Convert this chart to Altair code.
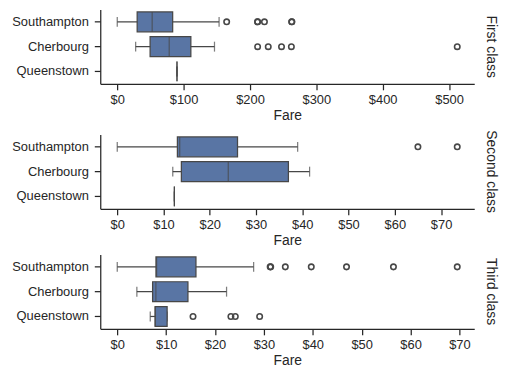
import altair as alt
import pandas as pd

towns = ["Southampton", "Cherbourg", "Queenstown"]

# First class box statistics (low whisker, Q1, median, Q3, high whisker)
lo1 = [0.0, 27.72, 90.0]
q1_1 = [30.0, 49.5, 90.0]
med1 = [52.6, 78.3, 90.0]
q3_1 = [83.5, 110.9, 90.0]
hi1 = [153.46, 146.52, 90.0]
out1_town = ["Southampton"] * 6 + ["Cherbourg"] * 5
out1_fare = [164.87, 211.34, 211.5, 221.78, 263.0, 263.0,
             211.5, 227.53, 247.52, 262.38, 512.33]

# Second class
lo2 = [0.0, 12.0, 12.35]
q1_2 = [13.0, 13.86, 12.35]
med2 = [13.5, 24.0, 12.35]
q3_2 = [26.0, 37.0, 12.35]
hi2 = [39.0, 41.58, 12.35]
out2_town = ["Southampton", "Southampton"]
out2_fare = [65.0, 73.5]

# Third class
lo3 = [0.0, 4.01, 6.75]
q1_3 = [7.92, 7.23, 7.75]
med3 = [8.05, 7.9, 7.75]
q3_3 = [16.1, 14.46, 10.2]
hi3 = [27.9, 22.36, 10.2]
out3_town = ["Southampton"] * 7 + ["Queenstown"] * 4
out3_fare = [31.28, 31.39, 34.38, 39.69, 46.9, 56.5, 69.55,
             15.5, 23.25, 24.15, 29.13]

classes = ["First class", "Second class", "Third class"]
ticks1 = [0, 100, 200, 300, 400, 500]
ticks23 = [0, 10, 20, 30, 40, 50, 60, 70]

BOX = "#5975a4"
LC = "#474747"
TXT = "#262626"
FONT = "Arial"


def panel(lo, q1, med, q3, hi, otown, ofare, ticks, label):
    df = pd.DataFrame({"town": towns, "lo": lo, "q1": q1, "med": med, "q3": q3, "hi": hi})
    od = pd.DataFrame({"town": otown, "fare": ofare})
    allv = lo + hi + ofare
    mn, mx = min(allv), max(allv)
    m = (mx - mn) * 0.05
    xscale = alt.Scale(domain=[mn - m, mx + m], nice=False, zero=False)
    xaxis = alt.Axis(title="Fare", values=ticks, labelExpr="'$' + datum.value")
    y = alt.Y("town:N", sort=towns,
              scale=alt.Scale(domain=towns, paddingInner=0, paddingOuter=0),
              axis=alt.Axis(title=None))
    base = alt.Chart(df)
    whisk = base.mark_rule(color=LC, strokeWidth=1.25).encode(
        x=alt.X("lo:Q", scale=xscale, axis=xaxis), x2="hi:Q", y=y)
    cap_lo = base.mark_tick(color=LC, size=10, thickness=1.25).encode(
        x=alt.X("lo:Q", scale=xscale, axis=xaxis), y=y)
    cap_hi = base.mark_tick(color=LC, size=10, thickness=1.25).encode(
        x=alt.X("hi:Q", scale=xscale, axis=xaxis), y=y)
    box = base.mark_bar(size=20, color=BOX, stroke=LC, strokeWidth=1.25).encode(
        x=alt.X("q1:Q", scale=xscale, axis=xaxis), x2="q3:Q", y=y)
    medm = base.mark_tick(color=LC, size=20, thickness=1.25).encode(
        x=alt.X("med:Q", scale=xscale, axis=xaxis), y=y)
    outs = alt.Chart(od).mark_point(shape="circle", filled=False, size=30,
                                    color=LC, strokeWidth=1.6, opacity=1).encode(
        x=alt.X("fare:Q", scale=xscale, axis=xaxis), y=y)
    return alt.layer(whisk, cap_lo, cap_hi, box, medm, outs).properties(
        width=377, height=75,
        title=alt.TitleParams(text=label, orient="right", anchor="middle",
                              fontSize=14, font=FONT, fontWeight="normal",
                              color=TXT, offset=10))


p1 = panel(lo1, q1_1, med1, q3_1, hi1, out1_town, out1_fare, ticks1, classes[0])
p2 = panel(lo2, q1_2, med2, q3_2, hi2, out2_town, out2_fare, ticks23, classes[1])
p3 = panel(lo3, q1_3, med3, q3_3, hi3, out3_town, out3_fare, ticks23, classes[2])

chart = alt.vconcat(p1, p2, p3, spacing=7).properties(
    padding={"left": 3, "top": 0, "right": 6, "bottom": 0}
).configure_view(stroke=None).configure_axis(
    grid=False, labelFont=FONT, titleFont=FONT, labelFontSize=13, titleFontSize=14,
    titleFontWeight="normal", labelColor=TXT, titleColor=TXT,
    domainColor=TXT, tickColor=TXT, domainWidth=1.25, tickWidth=1.25, tickSize=6,
    labelPadding=4, titlePadding=2
).configure_axisY(labelPadding=6)

chart.save("out.html", embed_options={"renderer": "svg", "actions": False})
